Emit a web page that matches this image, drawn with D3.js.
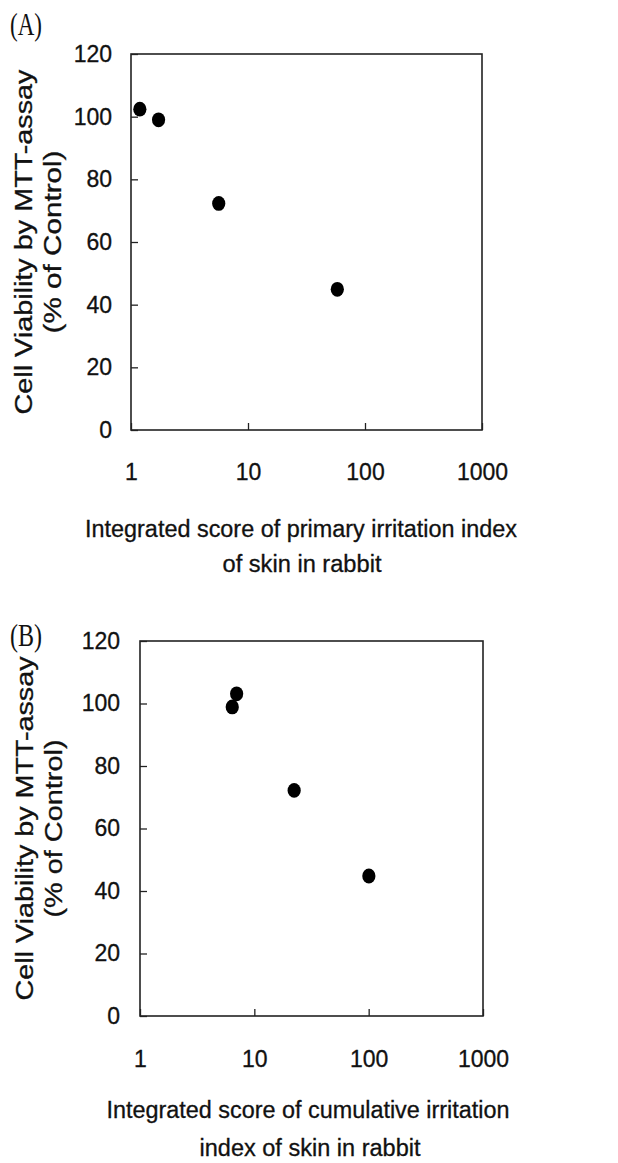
<!DOCTYPE html>
<html>
<head>
<meta charset="utf-8">
<script src="https://cdn.jsdelivr.net/npm/d3@7"></script>
<style>
  body { margin: 0; background: #fff; }
  svg text { fill: #111; stroke: #111; stroke-width: 0.3; }
  .tick text { font-family: "Liberation Sans", Arial, sans-serif; font-size: 23px; }
  .lab { font-family: "Liberation Sans", Arial, sans-serif; font-size: 23px; }
  .panel { font-family: "Liberation Serif", "DejaVu Serif", serif; font-size: 31px; stroke-width: 0; }
</style>
</head>
<body>
<div id="viz"></div>
<script>
// values
yTicks = [0, 20, 40, 60, 80, 100, 120];
xTicks = [1, 10, 100, 1000];

// (A) primary irritation index
primaryScore = [1.19, 1.72, 5.62, 58];
primaryViability = [102.4, 99.0, 72.3, 44.9];

// (B) cumulative irritation index
cumulativeScore = [7.0, 6.41, 22.3, 100.4];
cumulativeViability = [103.1, 98.9, 72.2, 44.8];

yLabel = ['Cell Viability by MTT-assay', '(% of Control)'];

panels = [
  {
    tag: '(A)', tagY: 35,
    x: primaryScore, y: primaryViability,
    left: 131, right: 482, top: 54, bottom: 430,
    xLab: ['Integrated score of primary irritation index', 'of skin in rabbit'],
    xLabY: [537, 572], xLabW: [432, 159], xLabX: [301, 302],
    yLabX: [32, 61], yLabW: [345, 183], yPad: 19, xPad: 34
  },
  {
    tag: '(B)', tagY: 646,
    x: cumulativeScore, y: cumulativeViability,
    left: 140, right: 483, top: 641, bottom: 1016,
    xLab: ['Integrated score of cumulative irritation', 'index of skin in rabbit'],
    xLabY: [1118, 1156], xLabW: [403, 221], xLabX: [308, 310],
    yLabX: [33, 62], yLabW: [344, 178], yPad: 20, xPad: 35
  }
];

width = 618;
height = 1163;

svg = d3.select('#viz').append('svg')
  .attr('width', width)
  .attr('height', height);

panels.forEach(function(p) {

  xScale = d3.scaleLog()
    .domain([1, 1000])
    .range([p.left, p.right]);

  yScale = d3.scaleLinear()
    .domain([0, 120])
    .range([p.bottom, p.top]);

  g = svg.append('g');

  // panel letter
  g.append('text')
    .attr('class', 'panel')
    .attr('x', 10)
    .attr('y', p.tagY)
    .attr('textLength', 32)
    .attr('lengthAdjust', 'spacingAndGlyphs')
    .text(p.tag);

  // y axis, ticks pointing inward
  yAxis = g.append('g')
    .attr('transform', 'translate(' + p.left + ',0)')
    .call(d3.axisLeft(yScale)
      .tickValues(yTicks)
      .tickSizeInner(-7)
      .tickSizeOuter(0)
      .tickPadding(p.yPad));
  yAxis.select('.domain').remove();
  yAxis.selectAll('line').attr('stroke', '#222').attr('stroke-width', 1.3);

  // x axis, log, ticks pointing inward
  xAxis = g.append('g')
    .attr('transform', 'translate(0,' + p.bottom + ')')
    .call(d3.axisBottom(xScale)
      .tickValues(xTicks)
      .tickFormat(d3.format('d'))
      .tickSizeInner(-7)
      .tickSizeOuter(0)
      .tickPadding(p.xPad));
  xAxis.select('.domain').remove();
  xAxis.selectAll('line').attr('stroke', '#222').attr('stroke-width', 1.3);

  // frame
  g.append('rect')
    .attr('x', p.left)
    .attr('y', p.top)
    .attr('width', p.right - p.left)
    .attr('height', p.bottom - p.top)
    .attr('fill', 'none')
    .attr('stroke', '#222')
    .attr('stroke-width', 1.6);

  // points
  g.selectAll('ellipse')
    .data(d3.zip(p.x, p.y))
    .enter()
    .append('ellipse')
    .attr('cx', d => xScale(d[0]))
    .attr('cy', d => yScale(d[1]))
    .attr('rx', 6.6)
    .attr('ry', 7.4)
    .attr('fill', '#000');

  // x label (two lines)
  g.selectAll('text.xlab')
    .data(p.xLab)
    .enter()
    .append('text')
    .attr('class', 'lab xlab')
    .attr('text-anchor', 'middle')
    .attr('x', (d, i) => p.xLabX[i])
    .attr('y', (d, i) => p.xLabY[i])
    .attr('textLength', (d, i) => p.xLabW[i])
    .attr('lengthAdjust', 'spacingAndGlyphs')
    .text(d => d);

  // y label (two lines, rotated)
  midY = (p.top + p.bottom) / 2;
  g.selectAll('text.ylab')
    .data(yLabel)
    .enter()
    .append('text')
    .attr('class', 'lab ylab')
    .attr('text-anchor', 'middle')
    .attr('transform', (d, i) => 'translate(' + p.yLabX[i] + ',' + midY + ') rotate(-90)')
    .attr('font-size', 25)
    .attr('textLength', (d, i) => p.yLabW[i])
    .attr('lengthAdjust', 'spacingAndGlyphs')
    .text(d => d);
});
</script>
</body>
</html>
